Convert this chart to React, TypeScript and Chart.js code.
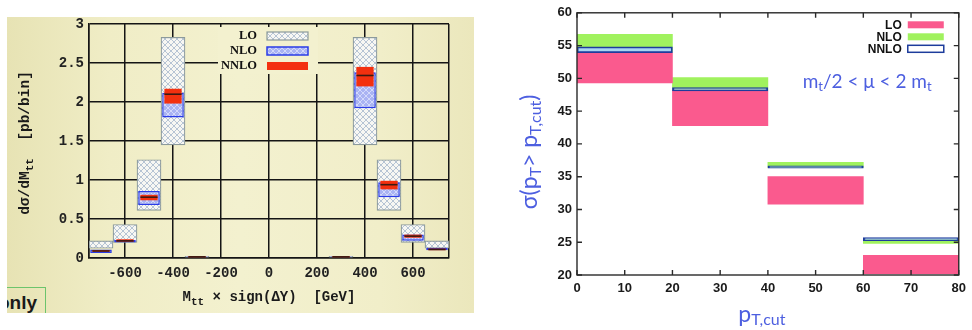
import React, { useEffect, useRef } from 'react';
import { Chart, registerables } from 'chart.js';
Chart.register(...registerables);

// ---------- Left chart: dσ/dMtt vs Mtt × sign(ΔY) ----------
const massBins = [-700, -600, -500, -400, -300, 300, 400, 500, 600, 700];
const loLow = [0.125, 0.2, 0.61, 1.45, 0.0, 0.0, 1.45, 0.61, 0.2, 0.125];
const loHigh = [0.22, 0.43, 1.26, 2.83, 0.02, 0.02, 2.83, 1.26, 0.43, 0.22];
const nloLow = [0.065, 0.2, 0.68, 1.8, 0.0, 0.0, 1.92, 0.78, 0.22, 0.1];
const nloHigh = [0.11, 0.23, 0.86, 2.12, 0.02, 0.02, 2.38, 0.97, 0.3, 0.13];
const nnloLow = [0.08, 0.21, 0.74, 1.98, 0.0, 0.0, 2.2, 0.88, 0.26, 0.1];
const nnloHigh = [0.1, 0.24, 0.81, 2.17, 0.025, 0.025, 2.45, 0.99, 0.3, 0.12];
const nnloMid = [0.09, 0.22, 0.78, 2.1, 0.015, 0.015, 2.34, 0.94, 0.28, 0.11];
const massTicks = [-750, -600, -400, -200, 0, 200, 400, 600, 750];
const sigmaTicks = [0, 0.5, 1, 1.5, 2, 2.5, 3];
const leftLegend = ['LO', 'NLO', 'NNLO'];

// ---------- Right chart: σ(pT > pT,cut) vs pT,cut ----------
const ptBins = [10, 30, 50, 70];
const ptLoLow = [49.3, 42.8, 30.8, 20.2];
const ptLoHigh = [53.9, 48.2, 35.0, 23.0];
const ptNloLow = [54.0, 48.3, 36.4, 24.8];
const ptNloHigh = [56.7, 50.1, 37.2, 25.4];
const ptNnloLow = [53.9, 48.1, 36.3, 25.25];
const ptNnloHigh = [54.8, 48.6, 36.65, 25.7];
const ptTicks = [0, 10, 20, 30, 40, 50, 60, 70, 80];
const xsecTicks = [20, 25, 30, 35, 40, 45, 50, 55, 60];

type Part = { t: string; sub?: boolean };
type RichOpts = {
  family: string; weight: string; size: number; subSize: number; subShift: number;
  color: string; rotate?: boolean; align?: 'center' | 'left';
};
function drawRich(ctx: CanvasRenderingContext2D, parts: Part[], cx: number, cy: number, o: RichOpts) {
  ctx.save();
  ctx.translate(cx, cy);
  if (o.rotate) ctx.rotate(-Math.PI / 2);
  const fontFor = (p: Part) => `${o.weight} ${p.sub ? o.subSize : o.size}px ${o.family}`;
  let total = 0;
  const widths = parts.map((p) => {
    ctx.font = fontFor(p);
    const w = ctx.measureText(p.t).width;
    total += w;
    return w;
  });
  let x = o.align === 'left' ? 0 : -total / 2;
  ctx.fillStyle = o.color;
  ctx.textBaseline = 'alphabetic';
  ctx.textAlign = 'left';
  parts.forEach((p, i) => {
    ctx.font = fontFor(p);
    ctx.fillText(p.t, x, p.sub ? o.subShift : 0);
    x += widths[i];
  });
  ctx.restore();
}

function makeHatch(bg: string, line: string, size = 6, lw = 1) {
  const c = document.createElement('canvas');
  c.width = size;
  c.height = size;
  const g = c.getContext('2d')!;
  g.fillStyle = bg;
  g.fillRect(0, 0, size, size);
  g.strokeStyle = line;
  g.lineWidth = lw;
  g.beginPath();
  g.moveTo(0, 0);
  g.lineTo(size, size);
  g.moveTo(size, 0);
  g.lineTo(0, size);
  g.stroke();
  return g.createPattern(c, 'repeat')!;
}

const leftDecor = {
  id: 'leftDecor',
  afterDatasetsDraw(chart: any) {
    const ctx = chart.ctx as CanvasRenderingContext2D;
    const { left, top } = chart.chartArea;
    ctx.save();
    // opaque key box
    ctx.fillStyle = '#f3f1cf';
    ctx.fillRect(left + 129, top + 3, 100, 47);
    leftLegend.forEach((name, i) => {
      const ds = chart.data.datasets[i];
      const rowY = top + 12 + i * 15;
      ctx.font = 'bold 12.5px "Liberation Serif", serif';
      ctx.fillStyle = '#111';
      ctx.textAlign = 'right';
      ctx.textBaseline = 'middle';
      ctx.fillText(name, left + 168, rowY);
      const sx = left + 178, sy = rowY - 4, sw = 41, sh = 8;
      ctx.fillStyle = ds.backgroundColor;
      ctx.fillRect(sx, sy, sw, sh);
      if (ds.borderWidth) {
        ctx.strokeStyle = ds.borderColor;
        ctx.lineWidth = ds.borderWidth;
        ctx.strokeRect(sx, sy, sw, sh);
      }
    });
    ctx.restore();
  },
  afterDraw(chart: any) {
    const ctx = chart.ctx as CanvasRenderingContext2D;
    const { left, right, top, bottom } = chart.chartArea;
    const common = {
      family: '"Liberation Mono", monospace', weight: 'bold', size: 14, subSize: 11, subShift: 4, color: '#1a1a1a',
    };
    drawRich(ctx, [{ t: 'dσ/dM' }, { t: 'tt', sub: true }, { t: '  [pb/bin]' }], left - 60, (top + bottom) / 2 + 2, {
      ...common, size: 14.5, rotate: true,
    });
    drawRich(ctx, [{ t: 'M' }, { t: 'tt', sub: true }, { t: ' × sign(ΔY)  [GeV]' }], (left + right) / 2, bottom + 43, common);
  },
};

const rightDecor = {
  id: 'rightDecor',
  afterDraw(chart: any) {
    const ctx = chart.ctx as CanvasRenderingContext2D;
    const { left, right, top, bottom } = chart.chartArea;
    const xs = chart.scales.x, ys = chart.scales.y;
    ctx.save();
    // frame + inward ticks
    ctx.strokeStyle = '#2a2a2a';
    ctx.lineWidth = 1.4;
    ctx.strokeRect(left, top, right - left, bottom - top);
    ctx.beginPath();
    xs.ticks.forEach((t: any) => {
      const px = xs.getPixelForValue(t.value);
      ctx.moveTo(px, bottom); ctx.lineTo(px, bottom - 5);
      ctx.moveTo(px, top); ctx.lineTo(px, top + 5);
    });
    ys.ticks.forEach((t: any) => {
      const py = ys.getPixelForValue(t.value);
      ctx.moveTo(left, py); ctx.lineTo(left + 5, py);
      ctx.moveTo(right, py); ctx.lineTo(right - 5, py);
    });
    ctx.stroke();

    // legend (LO, NLO, NNLO)
    const order = [1, 0, 2];
    ['LO', 'NLO', 'NNLO'].forEach((name, i) => {
      const ds = chart.data.datasets[order[i]];
      const rowY = top + 12 + i * 12;
      ctx.font = 'bold 12px "Liberation Sans", Arial, sans-serif';
      ctx.fillStyle = '#111';
      ctx.textAlign = 'right';
      ctx.textBaseline = 'middle';
      ctx.fillText(name, right - 57, rowY + 1);
      const sx = right - 51, sy = rowY - 3.5, sw = 36, sh = 7;
      if (name === 'NNLO') {
        ctx.fillStyle = '#ffffff';
        ctx.fillRect(sx, sy, sw, sh);
        ctx.strokeStyle = ds.borderColor;
        ctx.lineWidth = 1.5;
        ctx.strokeRect(sx, sy, sw, sh);
      } else {
        ctx.fillStyle = ds.backgroundColor;
        ctx.fillRect(sx, sy, sw, sh);
      }
    });
    ctx.restore();

    const blue = '#4d5fe0';
    // scale-range annotation
    drawRich(ctx, [{ t: 'm' }, { t: 't', sub: true }, { t: '/2 < μ < 2 m' }, { t: 't', sub: true }],
      xs.getPixelForValue(47.3), ys.getPixelForValue(48.6), {
        family: 'Lato, "Open Sans", sans-serif', weight: 'normal', size: 19, subSize: 13, subShift: 3, color: blue, align: 'left',
      });
    // axis titles
    drawRich(ctx, [{ t: 'σ(p' }, { t: 'T', sub: true }, { t: '> p' }, { t: 'T,cut', sub: true }, { t: ')' }],
      left - 40, (top + bottom) / 2 + 8, {
        family: 'Lato, "Open Sans", sans-serif', weight: 'normal', size: 23, subSize: 16, subShift: 4, color: blue, rotate: true,
      });
    drawRich(ctx, [{ t: 'p' }, { t: 'T,cut', sub: true }], (left + right) / 2 - 6, bottom + 47, {
      family: 'Lato, "Open Sans", sans-serif', weight: 'normal', size: 23, subSize: 16, subShift: 3, color: blue,
    });
  },
};

export default function App() {
  const leftRef = useRef<HTMLCanvasElement>(null);
  const rightRef = useRef<HTMLCanvasElement>(null);

  useEffect(() => {
    const loPat = makeHatch('#f7f7f3', '#b6c4d4', 6, 1);
    const nloPat = makeHatch('#a9b3f3', '#d3d9fb', 6, 1);
    const monoFont = { family: '"Liberation Mono", monospace', weight: 'bold' as const, size: 14 };

    const left = new Chart(leftRef.current!, {
      type: 'bar',
      data: {
        datasets: [
          {
            label: 'LO',
            data: massBins.map((x, i) => ({ x, y: [loLow[i], loHigh[i]] })) as any,
            backgroundColor: loPat as any,
            borderColor: '#8c9a9c',
            borderWidth: 1.2,
            borderSkipped: false,
            grouped: false,
            barPercentage: 1,
            categoryPercentage: 1,
            order: 4,
          },
          {
            label: 'NLO',
            data: massBins.map((x, i) => ({ x, y: [nloLow[i], nloHigh[i]] })) as any,
            backgroundColor: nloPat as any,
            borderColor: '#2a3ce8',
            borderWidth: 1.5,
            borderSkipped: false,
            grouped: false,
            barPercentage: 0.9,
            categoryPercentage: 1,
            order: 3,
          },
          {
            label: 'NNLO',
            data: massBins.map((x, i) => ({ x, y: [nnloLow[i], nnloHigh[i]] })) as any,
            backgroundColor: '#f3300f',
            borderWidth: 0,
            borderSkipped: false,
            grouped: false,
            barPercentage: 0.72,
            categoryPercentage: 1,
            order: 2,
          },
          {
            type: 'line',
            label: 'NNLO central',
            data: massBins.map((x, i) => ({ x, y: nnloMid[i] })) as any,
            showLine: false,
            pointStyle: 'line',
            pointRadius: 8.6,
            pointHoverRadius: 8.6,
            pointBorderWidth: 1.6,
            pointBorderColor: '#3c1a12',
            borderColor: '#3c1a12',
            backgroundColor: '#3c1a12',
            order: 1,
          } as any,
        ],
      },
      options: {
        responsive: false,
        animation: false,
        events: [],
        layout: { padding: { left: 0, right: 31, top: 24, bottom: 0 } },
        plugins: { legend: { display: false }, tooltip: { enabled: false } },
        scales: {
          x: {
            type: 'linear',
            min: -750,
            max: 750,
            offset: false,
            afterBuildTicks: (s: any) => { s.ticks = massTicks.map((v) => ({ value: v })); },
            afterFit: (s: any) => { s.height = 72; },
            grid: { color: '#151515', lineWidth: 1.5, drawTicks: false, offset: false },
            border: { color: '#151515', width: 1.5 },
            ticks: {
              callback: (v: any) => (Math.abs(v) === 750 ? '' : String(v)),
              font: monoFont,
              color: '#222',
              padding: 7,
              maxRotation: 0,
              autoSkip: false,
            },
          },
          y: {
            type: 'linear',
            min: 0,
            max: 3,
            afterBuildTicks: (s: any) => { s.ticks = sigmaTicks.map((v) => ({ value: v })); },
            afterFit: (s: any) => { s.width = 89; },
            grid: { color: '#151515', lineWidth: 1.5, drawTicks: false },
            border: { color: '#151515', width: 1.5 },
            ticks: {
              callback: (v: any) => String(v),
              font: monoFont,
              color: '#222',
              padding: 5,
            },
          },
        },
      } as any,
      plugins: [leftDecor],
    });

    const barCommon = {
      barThickness: 'flex',
      barPercentage: 1,
      categoryPercentage: 1,
      borderSkipped: false,
    };
    const right = new Chart(rightRef.current!, {
      type: 'bar',
      data: {
        datasets: [
          {
            label: 'NLO',
            data: ptBins.map((x, i) => ({ x, y: [ptNloLow[i], ptNloHigh[i]] })) as any,
            backgroundColor: '#a0f25e',
            borderWidth: 0,
            ...barCommon,
            order: 2,
          } as any,
          {
            label: 'LO',
            data: ptBins.map((x, i) => ({ x, y: [ptLoLow[i], ptLoHigh[i]] })) as any,
            backgroundColor: '#fa5a8e',
            borderWidth: 0,
            ...barCommon,
            order: 1,
          } as any,
          {
            label: 'NNLO',
            data: ptBins.map((x, i) => ({ x, y: [ptNnloLow[i], ptNnloHigh[i]] })) as any,
            backgroundColor: '#a8d6f2',
            borderColor: '#1d3c9c',
            borderWidth: 1.8,
            ...barCommon,
            order: 0,
          } as any,
        ],
      },
      options: {
        responsive: false,
        animation: false,
        events: [],
        layout: { padding: { left: 0, right: 13, top: 10, bottom: 0 } },
        plugins: { legend: { display: false }, tooltip: { enabled: false } },
        scales: {
          x: {
            type: 'linear',
            min: 0,
            max: 80,
            offset: false,
            stacked: true,
            afterBuildTicks: (s: any) => { s.ticks = ptTicks.map((v) => ({ value: v })); },
            afterFit: (s: any) => { s.height = 55; },
            grid: { display: false, drawTicks: false, offset: false },
            border: { display: false },
            ticks: {
              font: { family: '"Liberation Sans", Arial, sans-serif', weight: 'bold', size: 13 },
              color: '#1a1a1a',
              padding: 6,
              maxRotation: 0,
              autoSkip: false,
            },
          },
          y: {
            type: 'linear',
            min: 20,
            max: 60,
            stacked: false,
            afterBuildTicks: (s: any) => { s.ticks = xsecTicks.map((v) => ({ value: v })); },
            afterFit: (s: any) => { s.width = 87; },
            grid: { display: false, drawTicks: false },
            border: { display: false },
            ticks: {
              font: { family: '"Liberation Sans", Arial, sans-serif', weight: 'bold', size: 13 },
              color: '#1a1a1a',
              padding: 5,
            },
          },
        },
      } as any,
      plugins: [rightDecor],
    });

    return () => {
      left.destroy();
      right.destroy();
    };
  }, []);

  return (
    <div style={{ position: 'absolute', left: 0, top: 0, width: 972, height: 330, background: '#ffffff', overflow: 'hidden' }}>
      <div
        style={{
          position: 'absolute', left: 7, top: 17, width: 467, height: 296, overflow: 'hidden',
          background: 'linear-gradient(90deg, #e7e3b4 0%, #f0edc6 22%, #f3f1cf 50%, #f1eec9 80%, #ebe7bc 100%)',
        }}
      >
        <div
          style={{
            position: 'absolute', left: -10, top: 270, width: 48, height: 40,
            borderTop: '1.5px solid #6cc46c', borderRight: '1.5px solid #6cc46c',
          }}
        />
        <div
          style={{
            position: 'absolute', left: -9, top: 276, fontFamily: '"Liberation Sans", Arial, sans-serif',
            fontWeight: 'bold', fontSize: 19, lineHeight: '19px', color: '#1a1a1a',
          }}
        >
          only
        </div>
      </div>
      <div style={{ position: 'absolute', left: 0, top: 0, width: 480, height: 330 }}>
        <canvas ref={leftRef} width={480} height={330} style={{ display: 'block' }} />
      </div>
      <div style={{ position: 'absolute', left: 490, top: 0, width: 482, height: 330 }}>
        <canvas ref={rightRef} width={482} height={330} style={{ display: 'block' }} />
      </div>
    </div>
  );
}
